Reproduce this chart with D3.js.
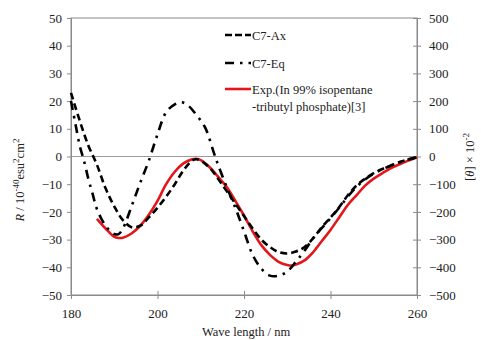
<!DOCTYPE html>
<html><head><meta charset="utf-8">
<script src="https://cdn.jsdelivr.net/npm/d3@7"></script>
<style>
body{margin:0;background:#fff;}
svg{display:block;font-family:"Liberation Serif","Times New Roman",serif;}
</style></head>
<body><svg id="c" width="481" height="340"></svg>
<script>
const axWl = [180,182,184,186,188,190,192,194,196,198,200,202,204,206,208,209,210,212,214,216,218,220,222,224,226,228,230,232,234,236,238,240,242,244,246,248,250,252,254,256,258,260];
const axR  = [23,13,4,-3,-11.5,-18,-23,-25.5,-25,-22,-18.5,-14.5,-10,-5,-1.5,-1,-1.5,-4,-8,-12.5,-17,-21.5,-26,-30,-32.7,-34.5,-35,-34.3,-32.7,-29.5,-25.5,-22,-18.3,-14,-10.5,-8,-6,-4.5,-3.2,-2,-1,-0.2];
const eqWl = [180,181,182,183,184,185,186,188,190,191,192,194,196,198,200,202,204,205.5,207,209,211,213,214,216,218,220,222,224,226,228,230,232,234,236,238,240,242,244,246,248,250,252,254,256,258,260];
const eqR  = [20,12,4,-1.5,-8,-13.5,-19,-25,-28,-28,-26,-18,-9.5,-1.5,8,16,18.8,19.6,18.5,15,10.5,1.5,-3,-11,-18.5,-27,-35.5,-40.5,-43,-43,-41.5,-38,-34,-29.5,-25.8,-22.3,-18.5,-14.5,-11,-8.3,-6.2,-4.6,-3.3,-2.1,-1.1,-0.3];
const expWl = [186,188,190,191,192,194,196,198,200,202,204,206,208,209,210,212,214,216,218,220,222,224,226,228,230,231,232,234,236,238,240,242,244,246,248,250,252,254,256,258,260];
const expR  = [-22.5,-26,-29,-29.4,-29.3,-27.8,-25,-21,-16,-10,-5.5,-2.5,-1,-0.8,-1.3,-3.8,-7.3,-11,-16,-21.3,-27,-32,-35.5,-38,-39.2,-39.4,-39,-37.5,-34.5,-30.5,-26.5,-22,-17.5,-14,-10.5,-8,-6,-4.2,-2.8,-1.5,-0.3];
const xTicks = [180,200,220,240,260];
const yTicks = [-50,-40,-30,-20,-10,0,10,20,30,40,50];
const y2Ticks = [-500,-400,-300,-200,-100,0,100,200,300,400,500];
const legendLabels = ["C7-Ax","C7-Eq","Exp.(In 99% isopentane","-tributyl phosphate)[3]"];

const svg = d3.select("#c");
const L=71, R=417, T=18, B=295;
const x = d3.scaleLinear().domain([180,260]).range([L,R]);
const y = d3.scaleLinear().domain([-50,50]).range([B,T]);
const y2 = d3.scaleLinear().domain([-500,500]).range([B,T]);
const axisCol = "#8a8a8a";

svg.append("rect").attr("x",L).attr("y",T).attr("width",R-L).attr("height",B-T)
  .attr("fill","none").attr("stroke",axisCol).attr("stroke-width",1);
svg.append("line").attr("x1",L).attr("x2",R).attr("y1",y(0)).attr("y2",y(0))
  .attr("stroke","#9a9a9a").attr("stroke-width",1);

function styleAxis(g){
  g.selectAll(".domain").attr("stroke",axisCol);
  g.selectAll(".tick line").attr("stroke",axisCol);
  g.selectAll(".tick text").attr("fill","#222").style("font-size","13px").style("font-family","Liberation Serif");
}
const gx = svg.append("g").attr("transform",`translate(0,${B})`)
  .call(d3.axisBottom(x).tickValues(xTicks).tickSize(4).tickPadding(10));
gx.selectAll(".tick line").attr("y1",-4);
styleAxis(gx);
const gy = svg.append("g").attr("transform",`translate(${L},0)`)
  .call(d3.axisLeft(y).tickValues(yTicks).tickSize(4).tickPadding(5));
styleAxis(gy);
const gy2 = svg.append("g").attr("transform",`translate(${R},0)`)
  .call(d3.axisRight(y2).tickValues(y2Ticks).tickSize(4).tickPadding(8));
gy2.selectAll(".tick line").attr("x1",-4);
styleAxis(gy2);

const line = d3.line().x(d=>x(d[0])).y(d=>y(d[1])).curve(d3.curveCatmullRom.alpha(0.5));
const plot = svg.append("g");
plot.append("path").datum(d3.zip(expWl,expR)).attr("d",line)
  .attr("fill","none").attr("stroke","#e3171b").attr("stroke-width",2.6);
plot.append("path").datum(d3.zip(axWl,axR)).attr("d",line)
  .attr("fill","none").attr("stroke","#000").attr("stroke-width",2.6).attr("stroke-dasharray","7,4");
plot.append("path").datum(d3.zip(eqWl,eqR)).attr("d",line)
  .attr("fill","none").attr("stroke","#000").attr("stroke-width",2.6).attr("stroke-dasharray","9,6,2.5,6");

const lg = svg.append("g");
const lx0=225, lx1=251;
lg.append("line").attr("x1",lx0).attr("x2",lx1).attr("y1",35).attr("y2",35)
  .attr("stroke","#000").attr("stroke-width",2.6).attr("stroke-dasharray","7,3");
lg.append("line").attr("x1",lx0).attr("x2",lx1).attr("y1",63).attr("y2",63)
  .attr("stroke","#000").attr("stroke-width",2.6).attr("stroke-dasharray","9,6,2.5,6");
lg.append("line").attr("x1",lx0).attr("x2",lx1).attr("y1",89).attr("y2",89)
  .attr("stroke","#e3171b").attr("stroke-width",2.6);
const lt = (t,yy)=>lg.append("text").attr("x",252).attr("y",yy).attr("fill","#222")
  .style("font-size","12.5px").text(t);
lt(legendLabels[0],39.5); lt(legendLabels[1],67.5); lt(legendLabels[2],93.5); lt(legendLabels[3],110.5);

svg.append("text").attr("x",246).attr("y",336).attr("text-anchor","middle").attr("fill","#222")
  .style("font-size","12.5px").text("Wave length / nm");
const yl = svg.append("text").attr("transform","translate(24,180) rotate(-90)").attr("text-anchor","middle")
  .attr("fill","#222").style("font-size","12.5px");
yl.append("tspan").style("font-style","italic").text("R");
yl.append("tspan").text(" / 10");
yl.append("tspan").attr("dy",-5).style("font-size","9px").text("-40");
yl.append("tspan").attr("dy",5).text("esu");
yl.append("tspan").attr("dy",-5).style("font-size","9px").text("2");
yl.append("tspan").attr("dy",5).text("cm");
yl.append("tspan").attr("dy",-5).style("font-size","9px").text("2");
const yr = svg.append("text").attr("transform","translate(474,157) rotate(-90)").attr("text-anchor","middle")
  .attr("fill","#222").style("font-size","12.5px");
yr.append("tspan").text("[");
yr.append("tspan").style("font-style","italic").text("θ");
yr.append("tspan").text("] × 10");
yr.append("tspan").attr("dy",-5).style("font-size","9px").text("-2");
</script></body></html>
